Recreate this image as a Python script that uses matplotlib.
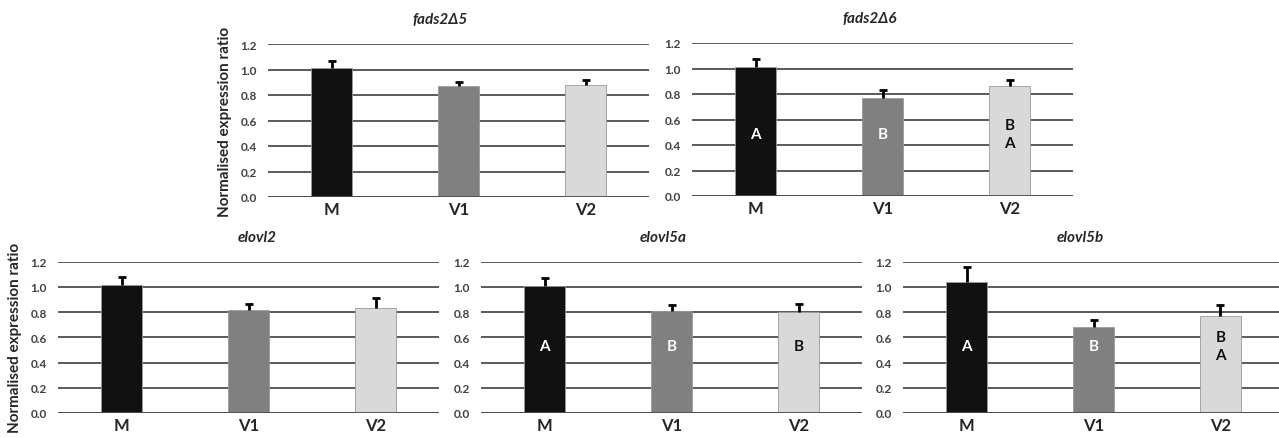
import matplotlib
matplotlib.use("Agg")
import matplotlib.pyplot as plt

plt.rcParams['font.family'] = ['Lato', 'DejaVu Sans']

groups = ["M", "V1", "V2"]
bar_colors = ["#111111", "#808080", "#d9d9d9"]
letter_colors = ["white", "white", "#111111"]

# means and upper error (sem)
fads2d5_mean = [1.01, 0.87, 0.88]
fads2d5_err = [0.055, 0.035, 0.035]
fads2d6_mean = [1.01, 0.77, 0.86]
fads2d6_err = [0.065, 0.06, 0.05]
elovl2_mean = [1.015, 0.82, 0.835]
elovl2_err = [0.06, 0.045, 0.077]
elovl5a_mean = [1.01, 0.807, 0.80]
elovl5a_err = [0.06, 0.048, 0.063]
elovl5b_mean = [1.04, 0.685, 0.77]
elovl5b_err = [0.12, 0.053, 0.085]

fads2d6_letters = ["A", "B", "B\nA"]
elovl5a_letters = ["A", "B", "B"]
elovl5b_letters = ["A", "B", "B\nA"]

W, H = 1279, 439
fig = plt.figure(figsize=(W / 100, H / 100), dpi=100)


def panel(left_px, top_px, bottom_px, title, title_x_px, means, errs, letters=None,
          letter_y=0.5, ylabel=False):
    ax = fig.add_axes([left_px / W, (H - bottom_px) / H, 381 / W, (bottom_px - top_px) / H])
    x = list(range(len(groups)))
    ax.bar(x, means, width=0.32, color=bar_colors, edgecolor="#9a9a9a", linewidth=0.6, zorder=3)
    _, caps, _ = ax.errorbar(x, means, yerr=[[0] * len(means), errs], fmt="none",
                             ecolor="black", elinewidth=2, capsize=3, capthick=2,
                             zorder=4, clip_on=False)
    caps[0].set_visible(False)
    ax.set_xlim(-0.5, 2.5)
    ax.set_ylim(0, 1.2)
    ax.set_yticks([0, 0.2, 0.4, 0.6, 0.8, 1.0, 1.2])
    ax.set_yticklabels(["0.0", "0.2", "0.4", "0.6", "0.8", "1.0", "1.2"],
                       fontsize=8.5, fontweight="bold", color="#404040")
    ax.set_xticks(x)
    ax.set_xticklabels(groups, fontsize=12, fontweight="bold", color="#262626")
    ax.tick_params(axis="both", length=0)
    ax.tick_params(axis="y", pad=8)
    ax.tick_params(axis="x", pad=3)
    for s in ax.spines.values():
        s.set_visible(False)
    ax.grid(axis="y", color="#4d4d4d", linewidth=1.3, zorder=0)
    ax.set_axisbelow(True)
    ax.axhline(0, color="#4d4d4d", linewidth=1.3, zorder=5)
    fig.text(title_x_px / W, (H - top_px + 25) / H, title, ha="center", va="center",
             fontsize=11, fontweight="bold", fontstyle="italic", color="#262626")
    if letters:
        for xi, lab, c in zip(x, letters, letter_colors):
            ax.text(xi, letter_y, lab, ha="center", va="center", fontsize=11,
                    fontweight="bold", color=c, linespacing=1.4, zorder=6)
    if ylabel:
        ax.set_ylabel("Normalised expression ratio", fontsize=11, fontweight="bold",
                      color="#262626", labelpad=6)
    return ax


panel(268, 45, 198, "fads2Δ5", 440, fads2d5_mean, fads2d5_err, ylabel=True)
panel(692, 44, 197, "fads2Δ6", 870, fads2d6_mean, fads2d6_err, fads2d6_letters, 0.486)
panel(58, 262.7, 414, "elovl2", 257, elovl2_mean, elovl2_err, ylabel=True)
panel(481, 262.7, 414, "elovl5a", 663, elovl5a_mean, elovl5a_err, elovl5a_letters, 0.535)
panel(903, 262.7, 414, "elovl5b", 1080, elovl5b_mean, elovl5b_err, elovl5b_letters, 0.53)

fig.savefig("out.png", dpi=100, facecolor="white")
